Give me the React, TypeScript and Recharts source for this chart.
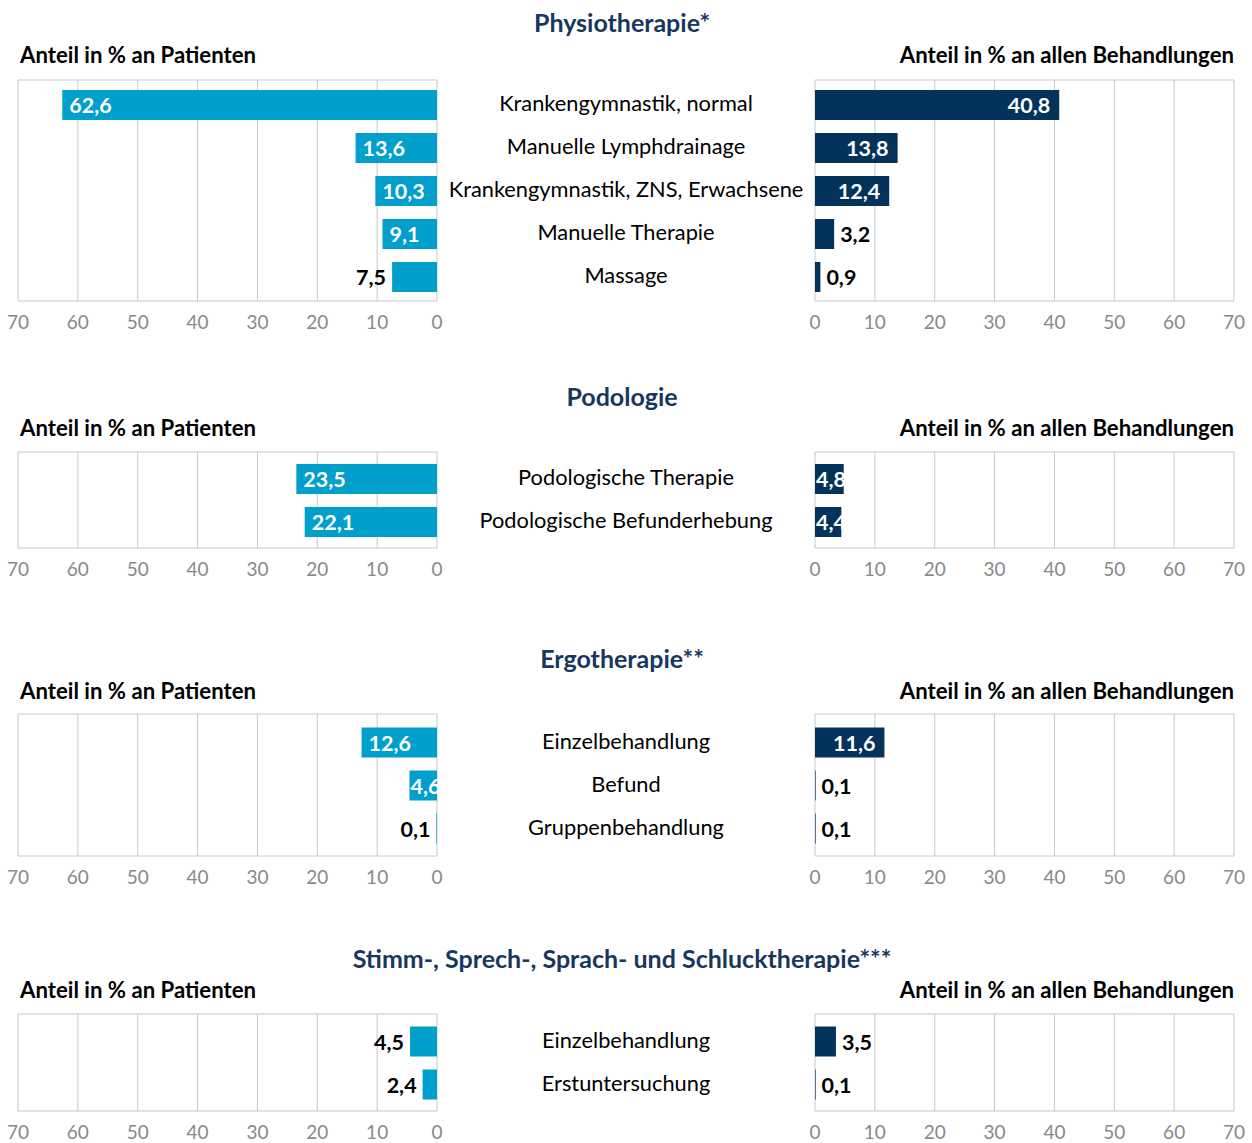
import React from 'react';
import { BarChart, Bar, XAxis, YAxis, CartesianGrid, LabelList } from 'recharts';

const FONT = 'Lato, "Open Sans", sans-serif';
const LIGHT_BLUE = '#009fcc';
const NAVY = '#03325b';
const TITLE_BLUE = '#17375e';
const GRID = '#c8c8c8';
const TICK_GRAY = '#898989';

const axisTicks = [0, 10, 20, 30, 40, 50, 60, 70];

// Physiotherapie
const physioCategories = [
  'Krankengymnastik, normal',
  'Manuelle Lymphdrainage',
  'Krankengymnastik, ZNS, Erwachsene',
  'Manuelle Therapie',
  'Massage',
];
const physioPatients = [62.6, 13.6, 10.3, 9.1, 7.5];
const physioTreatments = [40.8, 13.8, 12.4, 3.2, 0.9];

// Podologie
const podoCategories = ['Podologische Therapie', 'Podologische Befunderhebung'];
const podoPatients = [23.5, 22.1];
const podoTreatments = [4.8, 4.4];

// Ergotherapie
const ergoCategories = ['Einzelbehandlung', 'Befund', 'Gruppenbehandlung'];
const ergoPatients = [12.6, 4.6, 0.1];
const ergoTreatments = [11.6, 0.1, 0.1];

// Stimm-, Sprech-, Sprach- und Schlucktherapie
const sprachCategories = ['Einzelbehandlung', 'Erstuntersuchung'];
const sprachPatients = [4.5, 2.4];
const sprachTreatments = [3.5, 0.1];

const BAND = 43;
const AXIS_H = 32;

type SectionDef = {
  title: string;
  categories: string[];
  patients: number[];
  treatments: number[];
  titleY: number;
  axisTitleY: number;
  plotTop: number;
  plotHeight: number;
  outsideLeft: number[];
  outsideRight: number[];
};

const sections: SectionDef[] = [
  {
    title: 'Physiotherapie*',
    categories: physioCategories,
    patients: physioPatients,
    treatments: physioTreatments,
    titleY: 22, axisTitleY: 55, plotTop: 80, plotHeight: 221,
    outsideLeft: [4], outsideRight: [3, 4],
  },
  {
    title: 'Podologie',
    categories: podoCategories,
    patients: podoPatients,
    treatments: podoTreatments,
    titleY: 396, axisTitleY: 428, plotTop: 452, plotHeight: 96,
    outsideLeft: [], outsideRight: [],
  },
  {
    title: 'Ergotherapie**',
    categories: ergoCategories,
    patients: ergoPatients,
    treatments: ergoTreatments,
    titleY: 658, axisTitleY: 691, plotTop: 714, plotHeight: 142,
    outsideLeft: [2], outsideRight: [1, 2],
  },
  {
    title: 'Stimm-, Sprech-, Sprach- und Schlucktherapie***',
    categories: sprachCategories,
    patients: sprachPatients,
    treatments: sprachTreatments,
    titleY: 958, axisTitleY: 990, plotTop: 1014, plotHeight: 97,
    outsideLeft: [0, 1], outsideRight: [0, 1],
  },
];

const fmt = (v: number) => v.toFixed(1).replace('.', ',');

const XTick = (props: any) => (
  <text
    x={props.x}
    y={props.y + 20}
    textAnchor="middle"
    dominantBaseline="central"
    fill={TICK_GRAY}
    fontSize={19}
    fontFamily={FONT}
  >
    {props.payload.value}
  </text>
);

// category names sit in the gap between the two charts
const CenterTick = (props: any) => (
  <text
    x={props.x + 189}
    y={props.y - 2}
    textAnchor="middle"
    dominantBaseline="central"
    fill="#000"
    fontSize={21.8}
    fontFamily={FONT}
  >
    {props.payload.value}
  </text>
);

const makeLabel = (side: 'left' | 'right', outside: number[]) => (props: any) => {
  const x = Number(props.x);
  const w = Number(props.width);
  const y = Number(props.y);
  const h = Number(props.height);
  const lo = Math.min(x, x + w);
  const hi = Math.max(x, x + w);
  const cy = y + h / 2;
  const text = fmt(Number(props.value));
  const isOut = outside.includes(props.index);
  const common = {
    y: cy,
    dominantBaseline: 'central' as const,
    fontSize: 21.5,
    fontWeight: 700,
    fontFamily: FONT,
  };
  if (side === 'left') {
    if (isOut) return <text {...common} x={lo - 6} textAnchor="end" fill="#000">{text}</text>;
    const short = hi - lo < 40;
    return <text {...common} x={short ? lo + 1 : lo + 7} textAnchor="start" fill="#fff">{text}</text>;
  }
  if (isOut) return <text {...common} x={hi + 6} textAnchor="start" fill="#000">{text}</text>;
  const short = hi - lo < 40;
  return short
    ? <text {...common} x={lo + 1} textAnchor="start" fill="#fff">{text}</text>
    : <text {...common} x={hi - 9} textAnchor="end" fill="#fff">{text}</text>;
};

const boxLines = (p: any) => [p.offset.top, p.offset.top + p.offset.height];

function Section({ s }: { s: SectionDef }) {
  const data = s.categories.map((name, i) => ({
    name,
    patients: s.patients[i],
    treatments: s.treatments[i],
  }));
  const pad = Math.max(0, (s.plotHeight - s.categories.length * BAND) / 2);
  const chartH = s.plotHeight + 1 + AXIS_H;

  return (
    <>
      <div
        style={{
          position: 'absolute', left: 0, width: 1244, top: s.titleY - 16, height: 32,
          lineHeight: '32px', textAlign: 'center', fontSize: 25, fontWeight: 700, color: TITLE_BLUE,
        }}
      >
        {s.title}
      </div>
      <div
        style={{
          position: 'absolute', left: 20, top: s.axisTitleY - 15, height: 30,
          lineHeight: '30px', fontSize: 22.2, fontWeight: 700, color: '#000',
        }}
      >
        Anteil in % an Patienten
      </div>
      <div
        style={{
          position: 'absolute', right: 18, top: s.axisTitleY - 15, height: 30,
          lineHeight: '30px', fontSize: 22.2, fontWeight: 700, color: '#000',
        }}
      >
        Anteil in % an allen Behandlungen
      </div>

      <div style={{ position: 'absolute', left: 0, top: s.plotTop - 1 }}>
        <BarChart
          width={815}
          height={chartH}
          data={data}
          layout="vertical"
          margin={{ top: 1, right: 0, bottom: 0, left: 18 }}
        >
          <CartesianGrid stroke={GRID} horizontalCoordinatesGenerator={boxLines} />
          <XAxis
            type="number"
            domain={[0, 70]}
            ticks={axisTicks}
            reversed
            axisLine={false}
            tickLine={false}
            tickSize={0}
            tickMargin={0}
            height={AXIS_H}
            tick={<XTick />}
            interval={0}
          />
          <YAxis
            type="category"
            dataKey="name"
            orientation="right"
            width={378}
            axisLine={false}
            tickLine={false}
            tickSize={0}
            tickMargin={0}
            tick={<CenterTick />}
            padding={{ top: pad, bottom: pad }}
            interval={0}
          />
          <Bar dataKey="patients" fill={LIGHT_BLUE} barSize={30} isAnimationActive={false}>
            <LabelList dataKey="patients" content={makeLabel('left', s.outsideLeft)} />
          </Bar>
        </BarChart>
      </div>

      <div style={{ position: 'absolute', left: 800, top: s.plotTop - 1 }}>
        <BarChart
          width={452}
          height={chartH}
          data={data}
          layout="vertical"
          margin={{ top: 1, right: 18, bottom: 0, left: 15 }}
        >
          <CartesianGrid stroke={GRID} horizontalCoordinatesGenerator={boxLines} />
          <XAxis
            type="number"
            domain={[0, 70]}
            ticks={axisTicks}
            axisLine={false}
            tickLine={false}
            tickSize={0}
            tickMargin={0}
            height={AXIS_H}
            tick={<XTick />}
            interval={0}
          />
          <YAxis
            type="category"
            dataKey="name"
            hide
            padding={{ top: pad, bottom: pad }}
          />
          <Bar dataKey="treatments" fill={NAVY} barSize={30} isAnimationActive={false}>
            <LabelList dataKey="treatments" content={makeLabel('right', s.outsideRight)} />
          </Bar>
        </BarChart>
      </div>
    </>
  );
}

export default function App() {
  return (
    <div
      style={{
        position: 'absolute', left: 0, top: 0, width: 1252, height: 1143,
        background: '#fff', fontFamily: FONT, overflow: 'hidden',
      }}
    >
      {sections.map((s) => (
        <Section key={s.title} s={s} />
      ))}
    </div>
  );
}
